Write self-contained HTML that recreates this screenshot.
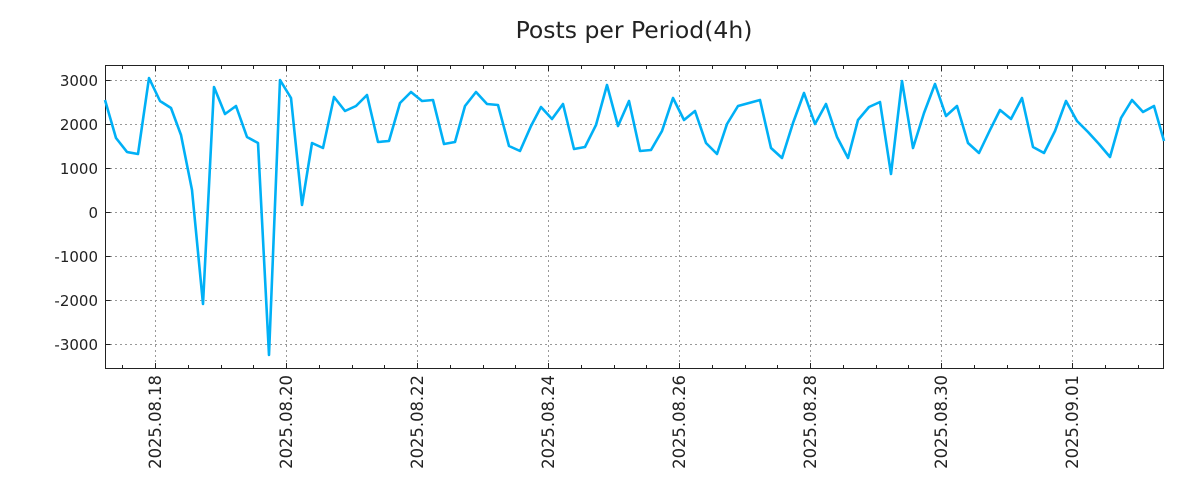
<!DOCTYPE html>
<html><head><meta charset="utf-8"><style>html,body{margin:0;padding:0;background:#fff}svg{display:block}</style></head>
<body>
<svg width="1200" height="500" xmlns="http://www.w3.org/2000/svg" font-family="DejaVu Sans, Liberation Sans, sans-serif">
<rect width="1200" height="500" fill="#fff"/>
<text x="634" y="38" font-size="23.5" text-anchor="middle" fill="#222">Posts per Period(4h)</text>
<g stroke="#999" stroke-width="1" stroke-dasharray="2,3">
<line x1="105" x2="1164" y1="80.5" y2="80.5"/><line x1="105" x2="1164" y1="124.5" y2="124.5"/><line x1="105" x2="1164" y1="168.5" y2="168.5"/><line x1="105" x2="1164" y1="212.5" y2="212.5"/><line x1="105" x2="1164" y1="256.5" y2="256.5"/><line x1="105" x2="1164" y1="300.5" y2="300.5"/><line x1="105" x2="1164" y1="344.5" y2="344.5"/>
<line y1="65" y2="369" x1="155.5" x2="155.5"/><line y1="65" y2="369" x1="286.5" x2="286.5"/><line y1="65" y2="369" x1="417.5" x2="417.5"/><line y1="65" y2="369" x1="548.5" x2="548.5"/><line y1="65" y2="369" x1="679.5" x2="679.5"/><line y1="65" y2="369" x1="810.5" x2="810.5"/><line y1="65" y2="369" x1="941.5" x2="941.5"/><line y1="65" y2="369" x1="1072.5" x2="1072.5"/>
</g>
<g stroke="#222" stroke-width="1">
<path d="M105.5 80.5h5M105.5 124.5h5M105.5 168.5h5M105.5 212.5h5M105.5 256.5h5M105.5 300.5h5M105.5 344.5h5M1163.5 80.5h-5M1163.5 124.5h-5M1163.5 168.5h-5M1163.5 212.5h-5M1163.5 256.5h-5M1163.5 300.5h-5M1163.5 344.5h-5"/>
<path d="M122.5 368v-3M155.5 368v-5M188.5 368v-3M221.5 368v-3M253.5 368v-3M286.5 368v-5M319.5 368v-3M352.5 368v-3M384.5 368v-3M417.5 368v-5M450.5 368v-3M483.5 368v-3M515.5 368v-3M548.5 368v-5M581.5 368v-3M614.5 368v-3M646.5 368v-3M679.5 368v-5M712.5 368v-3M745.5 368v-3M777.5 368v-3M810.5 368v-5M843.5 368v-3M876.5 368v-3M908.5 368v-3M941.5 368v-5M974.5 368v-3M1007.5 368v-3M1039.5 368v-3M1072.5 368v-5M1105.5 368v-3M1138.5 368v-3"/>
<path d="M122.5 66v3M155.5 66v5M188.5 66v3M221.5 66v3M253.5 66v3M286.5 66v5M319.5 66v3M352.5 66v3M384.5 66v3M417.5 66v5M450.5 66v3M483.5 66v3M515.5 66v3M548.5 66v5M581.5 66v3M614.5 66v3M646.5 66v3M679.5 66v5M712.5 66v3M745.5 66v3M777.5 66v3M810.5 66v5M843.5 66v3M876.5 66v3M908.5 66v3M941.5 66v5M974.5 66v3M1007.5 66v3M1039.5 66v3M1072.5 66v5M1105.5 66v3M1138.5 66v3"/>
</g>
<rect x="105.5" y="65.5" width="1058" height="303" fill="none" stroke="#222" stroke-width="1"/>
<g font-size="15" fill="#222" text-anchor="end">
<text x="98" y="86">3000</text><text x="98" y="130">2000</text><text x="98" y="174">1000</text><text x="98" y="218">0</text><text x="98" y="262">-1000</text><text x="98" y="306">-2000</text><text x="98" y="350">-3000</text>
</g>
<g font-size="16.4" fill="#222" text-anchor="end">
<text transform="translate(161,375) rotate(-90)">2025.08.18</text>
<text transform="translate(292,375) rotate(-90)">2025.08.20</text>
<text transform="translate(423,375) rotate(-90)">2025.08.22</text>
<text transform="translate(554,375) rotate(-90)">2025.08.24</text>
<text transform="translate(685,375) rotate(-90)">2025.08.26</text>
<text transform="translate(816,375) rotate(-90)">2025.08.28</text>
<text transform="translate(947,375) rotate(-90)">2025.08.30</text>
<text transform="translate(1078,375) rotate(-90)">2025.09.01</text>
</g>
<polyline fill="none" stroke="#00b0f6" stroke-width="2.6" stroke-linejoin="round" points="105,100 116,138 127,152 138,154 149,78 160,101 171,108 181,135 192,190 203,304 214,87 225,114 236,106 247,137 258,143 269,355 280,80 291,98 302,205 312,143 323,148 334,97 345,111 356,106 367,95 378,142 389,141 400,103 411,92 422,101 433,100 444,144 455,142 465,106 476,92 487,104 498,105 509,146 520,151 531,126 541,107 552,119 563,104 574,149 585,147 596,125 607,85 618,126 629,101 640,151 651,150 662,131 673,98 684,120 695,111 706,143 717,154 727,124 738,106 749,103 760,100 771,148 782,158 793,123 804,93 815,124 826,104 837,137 848,158 858,120 869,107 880,102 891,174 902,81 913,148 924,113 935,84 946,116 957,106 968,143 979,153 990,130 1000,110 1011,119 1022,98 1033,147 1044,153 1055,131 1066,101 1077,121 1088,132 1099,144 1110,157 1121,118 1132,100 1143,112 1154,106 1164,141"/>
</svg>
</body></html>
